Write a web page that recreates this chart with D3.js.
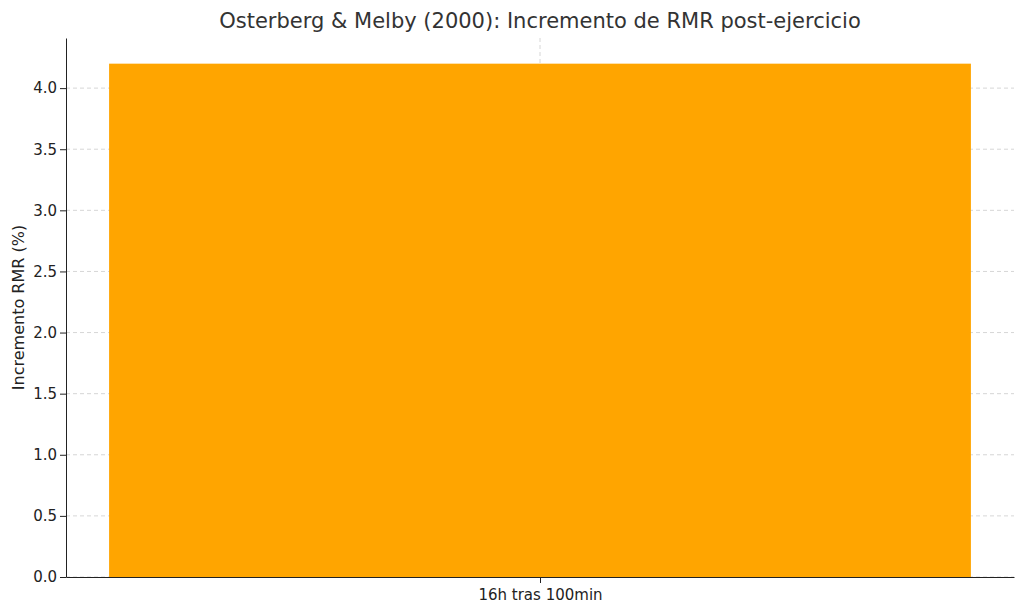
<!DOCTYPE html>
<html><head><meta charset="utf-8">
<script src="https://cdn.jsdelivr.net/npm/d3@7"></script>
<style>body{margin:0;background:#fff;font-family:"DejaVu Sans",sans-serif;}</style>
</head><body>
<svg id="chart" width="1024" height="610"></svg>
<script>
const categories = ["16h tras 100min"];
const values = [4.2];
const yTicks = [0, 0.5, 1.0, 1.5, 2.0, 2.5, 3.0, 3.5, 4.0];

const margin = {top: 38, right: 10, bottom: 33, left: 66};
const width = 1024, height = 610;
const svg = d3.select("#chart");
const g = svg.append("g").attr("transform", `translate(${margin.left},${margin.top})`);
const iw = width - margin.left - margin.right, ih = height - margin.top - margin.bottom;

const x = d3.scaleLinear().domain([-0.44, 0.44]).range([0, iw]);
const y = d3.scaleLinear().domain([0, 4.41]).range([ih, 0]);

// grid
g.selectAll(".hg").data(yTicks).join("line")
  .attr("x1", 0).attr("x2", iw).attr("y1", d => y(d)).attr("y2", d => y(d))
  .attr("stroke", "#ccc").attr("stroke-dasharray", "4,3").attr("stroke-width", 0.8);
g.selectAll(".vg").data(categories).join("line")
  .attr("x1", (d, i) => x(i)).attr("x2", (d, i) => x(i)).attr("y1", 0).attr("y2", ih)
  .attr("stroke", "#ccc").attr("stroke-dasharray", "4,3").attr("stroke-width", 0.8);

g.selectAll(".bar").data(values).join("rect")
  .attr("x", (d, i) => x(i - 0.4)).attr("width", (d, i) => x(i + 0.4) - x(i - 0.4))
  .attr("y", d => y(d)).attr("height", d => ih - y(d)).attr("fill", "#ffa500");

const yAxis = g.append("g").call(d3.axisLeft(y).tickValues(yTicks).tickFormat(d3.format(".1f")).tickSizeOuter(0));
const xAxis = g.append("g").attr("transform", `translate(0,${ih})`)
  .call(d3.axisBottom(x).tickValues([0]).tickFormat((d, i) => categories[i]).tickSizeOuter(0));
[yAxis, xAxis].forEach(a => {
  a.selectAll("text").attr("font-size", 15).attr("font-family", "DejaVu Sans").attr("fill", "#222");
  a.select(".domain").attr("stroke", "#222");
  a.selectAll(".tick line").attr("stroke", "#222");
});
xAxis.selectAll("text").attr("dy", "0.9em");

svg.append("text").attr("x", 540).attr("y", 28).attr("text-anchor", "middle")
  .attr("font-size", 21).attr("fill", "#333").text("Osterberg & Melby (2000): Incremento de RMR post-ejercicio");
svg.append("text").attr("transform", `translate(24,${margin.top + ih / 2}) rotate(-90)`)
  .attr("text-anchor", "middle").attr("font-size", 16).attr("fill", "#222").text("Incremento RMR (%)");
</script>
</body></html>
